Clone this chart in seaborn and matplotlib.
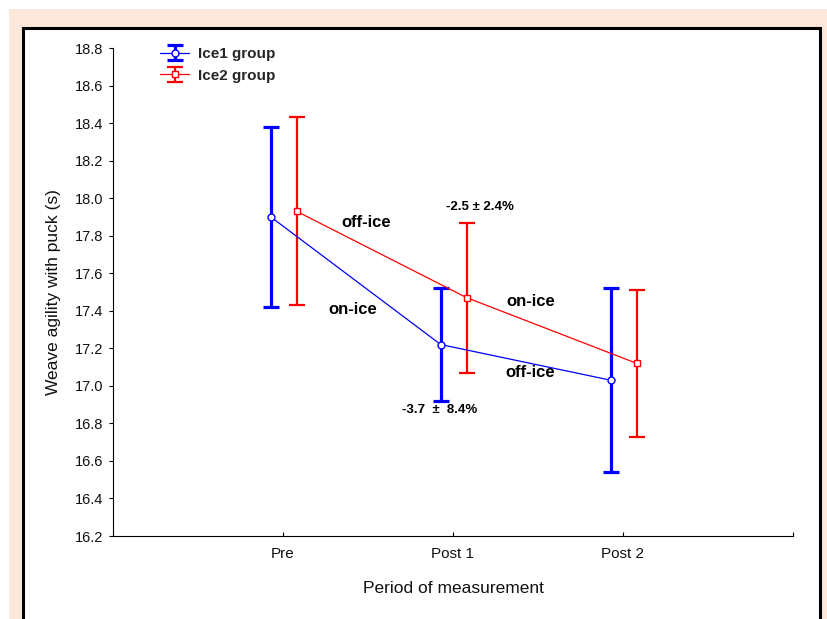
import numpy as np
import pandas as pd
import matplotlib
matplotlib.use('Agg')
import matplotlib.pyplot as plt
import seaborn as sns
from matplotlib.patches import Rectangle
from matplotlib.legend_handler import HandlerTuple

# ---- data ----
periods = ['Pre', 'Post 1', 'Post 2']
groups = ['Ice1 group', 'Ice2 group']
ice1_mean = [17.90, 17.22, 17.03]
ice1_err = [0.48, 0.30, 0.49]
ice2_mean = [17.93, 17.47, 17.12]
ice2_err = [0.50, 0.40, 0.39]

# annotation labels
lbl_off_ice = 'off-ice'
lbl_on_ice = 'on-ice'
lbl_ice2_change = '-2.5 \u00b1 2.4%'
lbl_ice1_change = '-3.7  \u00b1  8.4%'

# ---- styles ----
colors = ['#0000FF', '#FF0000']
markers = ['o', 's']
dodge = [-0.072, 0.08]
bar_lw = [2.3, 1.6]

rows = []
for g, means, errs, dx in zip(groups, [ice1_mean, ice2_mean], [ice1_err, ice2_err], dodge):
    for i, (m, e) in enumerate(zip(means, errs)):
        rows.append({'group': g, 'period': periods[i], 'xpos': i + dx, 'mean': m, 'err': e})
df = pd.DataFrame(rows)

sns.set_theme(style='white')
plt.rcParams['font.family'] = ['Liberation Sans', 'DejaVu Sans']

W, H = 828, 619
fig = plt.figure(figsize=(W / 100, H / 100), dpi=100)
fig.patch.set_facecolor('white')
# peach frame and inner white panel with black border
fig.patches.append(Rectangle((9 / W, 0), 1 - 9 / W, 1 - 9 / H, transform=fig.transFigure,
                             facecolor='#FBE8DA', edgecolor='none', zorder=-20))
fig.patches.append(Rectangle((23 / W, -0.05), (820 - 23) / W, (H - 28) / H + 0.05,
                             transform=fig.transFigure, facecolor='white',
                             edgecolor='black', linewidth=2.2, zorder=-10))

ax = fig.add_axes([113 / W, 1 - 536 / H, (793 - 113) / W, (536 - 48) / H])
ax.set_facecolor('none')

handles = []
for g, c, mk, lw in zip(groups, colors, markers, bar_lw):
    sub = df[df['group'] == g]
    sns.lineplot(data=sub, x='xpos', y='mean', color=c, marker=mk, ms=5,
                 mfc='white', mec=c, mew=1.0, lw=0.9, ax=ax, legend=False,
                 sort=False, zorder=3)
    line = ax.lines[-1]
    cont = ax.errorbar(sub['xpos'], sub['mean'], yerr=sub['err'], fmt='none',
                       ecolor=c, elinewidth=lw, capsize=6, capthick=lw, zorder=2)
    handles.append((cont, line))

ax.set_xlim(-1, 3)
ax.set_ylim(16.2, 18.8)
ax.set_xticks(range(len(periods)))
ax.set_xticklabels(periods)
ax.set_xticks([3], minor=True)
ax.set_yticks(np.round(np.arange(16.2, 18.81, 0.2), 1))
ax.set_yticklabels([f'{v:.1f}' for v in np.arange(16.2, 18.81, 0.2)])

for s in ['top', 'right']:
    ax.spines[s].set_visible(False)
for s in ['left', 'bottom']:
    ax.spines[s].set_color('black')
    ax.spines[s].set_linewidth(0.8)

ax.tick_params(axis='x', which='both', direction='in', length=3, width=0.8,
               color='black', labelsize=11, pad=8, bottom=True)
ax.tick_params(axis='y', direction='out', length=3, width=0.8, color='black',
               labelsize=10.5, pad=4, left=True)
for t in ax.get_xticklabels() + ax.get_yticklabels():
    t.set_color('#111111')

ax.set_xlabel('Period of measurement', fontsize=12.5, color='#111111', labelpad=14)
ax.set_ylabel('Weave agility with puck (s)', fontsize=12.5, color='#111111', labelpad=10)

# annotations
big = dict(fontsize=12, fontweight='bold', ha='center', va='center', color='black')
small = dict(fontsize=9.5, fontweight='bold', ha='center', va='center', color='black')
ax.text(0.488, 17.869, lbl_off_ice, **big)
ax.text(0.412, 17.409, lbl_on_ice, **big)
ax.text(1.459, 17.447, lbl_on_ice, **big)
ax.text(1.453, 17.069, lbl_off_ice, **big)
ax.text(1.159, 17.953, lbl_ice2_change, **small)
ax.text(0.924, 16.871, lbl_ice1_change, **small)

leg = ax.legend(handles, groups, handler_map={tuple: HandlerTuple(ndivide=1)},
                loc='upper left', bbox_to_anchor=(160 / W, 1 - 47 / H),
                bbox_transform=fig.transFigure, frameon=False, borderpad=0,
                borderaxespad=0, handlelength=1.9, handletextpad=0.6,
                labelspacing=0.5, prop={'weight': 'bold', 'size': 11})

fig.savefig('out.png', dpi=100)
